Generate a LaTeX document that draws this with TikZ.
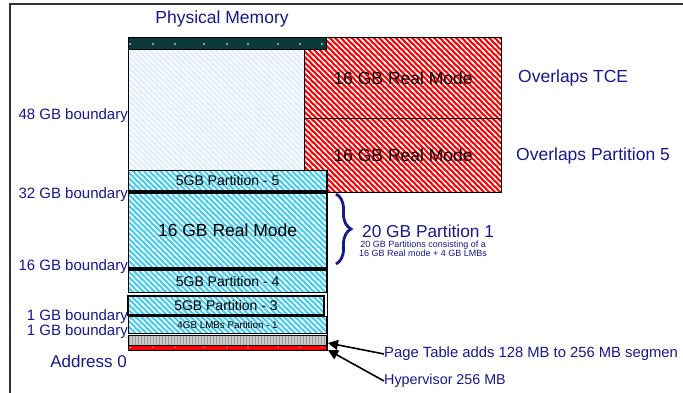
\documentclass[tikz,border=0pt]{standalone}
\usepackage{fontspec}
\setmainfont{Liberation Sans}
\usetikzlibrary{patterns,arrows.meta,decorations.pathreplacing}
\definecolor{navy}{RGB}{25,25,135}
\definecolor{mycyan}{RGB}{70,205,240}
\definecolor{lightblue}{RGB}{226,239,250}
\definecolor{darkteal}{RGB}{12,58,58}
\definecolor{myred}{RGB}{255,0,0}
\pgfdeclarepatternformonly{mystripes}{\pgfqpoint{-1pt}{-1pt}}{\pgfqpoint{6.5pt}{6.5pt}}{\pgfqpoint{5.5pt}{5.5pt}}{
  \pgfsetlinewidth{1.1pt}
  \pgfpathmoveto{\pgfqpoint{-1pt}{6.5pt}}\pgfpathlineto{\pgfqpoint{6.5pt}{-1pt}}
  \pgfpathmoveto{\pgfqpoint{-2pt}{2pt}}\pgfpathlineto{\pgfqpoint{2pt}{-2pt}}
  \pgfpathmoveto{\pgfqpoint{3.5pt}{7.5pt}}\pgfpathlineto{\pgfqpoint{7.5pt}{3.5pt}}
  \pgfusepath{stroke}
}
\newcommand{\fs}[1]{\fontsize{#1}{#1}\selectfont}
\begin{document}
\begin{tikzpicture}[x=1pt,y=-1pt,
  box/.style={draw=black, line width=1.2pt, inner sep=0pt, anchor=north west, text=black},
  cyanbox/.style={box, preaction={fill=mycyan}, pattern=mystripes, pattern color=white},
  redbox/.style={box, preaction={fill=myred}, pattern=mystripes, pattern color=white},
  lightbox/.style={box, preaction={fill=lightblue}, pattern=mystripes, pattern color=white!60!lightblue!40!white},
  lbl/.style={text=navy, inner sep=0pt},
  bnd/.style={lbl, anchor=east, font=\fs{15}},
  arr/.style={draw=black, line width=1.6pt, -{Triangle[length=10pt,width=10pt]}},
  dot/.style={fill=white, inner sep=0pt, minimum size=1.6pt, circle}
]
\useasboundingbox (0,0) rectangle (683,393);
\fill[white] (0,0) rectangle (683,393);
% frame
\draw[line width=1.6pt, black!80] (683,4) -- (10,4) -- (10,393);

\node[lbl, font=\fs{17.5}] (title) at (222,19) {Physical Memory};

% red overlap boxes
\node[redbox, minimum width=197pt, minimum height=81pt, font=\fs{17.5}] (redA) at (304,37) {16 GB Real Mode};
\node[redbox, minimum width=197pt, minimum height=74pt, font=\fs{17.5}] (redB) at (304,118) {16 GB Real Mode};

% light region
\node[lightbox, minimum width=176pt, minimum height=121pt] (light) at (128,49) {};

% dark bar
\node[box, fill=darkteal, minimum width=198pt, minimum height=12pt] (bar) at (128,37) {};
\foreach \x in {130,153,175,204,227,248,278,300,322}
  \node[dot] at (\x,44) {};

% partitions
\node[cyanbox, minimum width=198pt, minimum height=20pt, font=\fs{14}] (p5) at (128,170) {5GB Partition - 5};
\node[cyanbox, minimum width=198pt, minimum height=75pt, font=\fs{17.5}] (rm) at (128,192) {16 GB Real Mode};
\draw[line width=3pt] (rm.north west) -- (rm.north east);
\draw[line width=3pt] (rm.south west) -- (rm.south east);
\node[cyanbox, minimum width=198pt, minimum height=22pt, font=\fs{14}] (p4) at (128,270) {5GB Partition - 4};
\node[cyanbox, line width=2pt, minimum width=196pt, minimum height=19pt, font=\fs{14}] (p3) at (127,295) {5GB Partition - 3};
\node[cyanbox, minimum width=198pt, minimum height=17pt, font=\fs{9.8}] (lmb) at (128,316) {4GB LMBs Partition - 1};
\node[box, preaction={fill=black!20}, pattern=vertical lines, pattern color=black!40, minimum width=198pt, minimum height=10pt] (gray) at (128,335) {};
\node[box, fill=myred, minimum width=198pt, minimum height=5pt] (redline) at (128,345) {};
\foreach \x in {130,153,175,204,227,248,278,300,322}
  \node[dot, minimum size=1.3pt] at (\x,347.5) {};

% column right edge
\draw[line width=1.2pt] (p5.north east) -- (redline.south east);

% boundary labels
\node[bnd] (b48) at (128,116) {48 GB boundary};
\node[bnd] (b32) at (128,195) {32 GB boundary};
\node[bnd] (b16) at (128,267) {16 GB boundary};
\node[bnd] (b1a) at (128,317) {1 GB boundary};
\node[bnd] (b1b) at (128,332) {1 GB boundary};
\node[lbl, anchor=east, font=\fs{17}] (addr) at (127,361) {Address 0};

% overlap labels
\node[lbl, anchor=west, font=\fs{17.5}] (otce) at (518,78) {Overlaps TCE};
\node[lbl, anchor=west, font=\fs{17.5}] (op5) at (516,156) {Overlaps Partition 5};

% brace
\coordinate (brA) at (336,194);
\coordinate (brB) at (336,264);
\draw[navy, line width=2.8pt, decorate, decoration={brace, amplitude=15pt}] (brA) -- (brB);
\node[lbl, anchor=west, font=\fs{17.3}] (p1) at (362,231) {20 GB Partition 1};
\node[lbl, anchor=north west, align=center, font=\fs{9}] (p1s) at (359,241) {20 GB Partitions consisting of a\\16 GB Real mode + 4 GB LMBs};

% bottom labels with arrows
\node[lbl, anchor=west, font=\fs{14.8}] (pt) at (384,354) {Page Table adds 128 MB to 256 MB segmen};
\node[lbl, anchor=west, font=\fs{14.3}] (hv) at (384,381) {Hypervisor 256 MB};
\coordinate (ptend) at (328,343);
\coordinate (hvend) at (328,350);
\draw[arr] (pt.west) -- (ptend);
\draw[arr] (hv.west) -- (hvend);
\end{tikzpicture}
\end{document}
